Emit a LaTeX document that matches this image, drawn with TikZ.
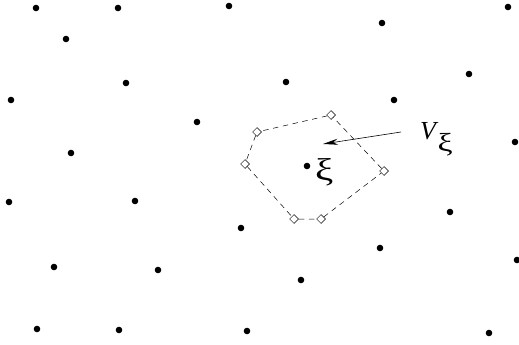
\documentclass[tikz,border=0pt]{standalone}
\usepackage{graphicx}
\usepackage{fontspec}
\setmainfont{Liberation Serif}
\usetikzlibrary{shapes.geometric,arrows.meta}
\tikzset{
  vert/.style={diamond,draw,fill=white,inner sep=0pt,minimum size=9pt,line width=0.5pt},
  cell/.style={dash pattern=on 5.5pt off 4.5pt,line width=0.5pt}
}
\begin{document}
\begin{tikzpicture}[x=1pt,y=-1pt]
\useasboundingbox (0,0) rectangle (519,345);
% lattice points
\foreach \p in {(36,8),(118,8),(229,6),(508,7),(382,23),(66,39),(469,74),
  (126,83),(286,82),(11,100),(394,100),(197,122),(515,142),(71,153),
  (9,202),(135,201),(450,212),(241,228),(380,248),(517,260),(54,267),
  (158,270),(301,280),(37,329),(119,330),(247,331),(489,333)}
  \fill \p circle (3.3);
\fill (307,166) circle (3.3);
\node[font=\fontsize{31.5}{33}\selectfont,inner sep=0pt,anchor=base west] (xi) at (315,180.7) {\scalebox{1.3}[1]{ξ}};
% Voronoi cell
\node[vert] (v1) at (331,115) {};
\node[vert] (v2) at (257,132) {};
\node[vert] (v3) at (245,164) {};
\node[vert] (v4) at (294,219) {};
\node[vert] (v5) at (321,219) {};
\node[vert] (v6) at (384,171) {};
\draw[cell] (v1) -- (v2) -- (v3) -- (v4) -- (v5) -- (v6) -- (v1);
% label
\node[font=\fontsize{26}{28}\selectfont,inner sep=0pt,anchor=base west] (lab) at (420,139) {\textit{V}\kern-1pt\raisebox{-12pt}{\fontsize{26}{28}\selectfont\scalebox{1.3}[1]{ξ}}};
\coordinate (tail) at (401,132);
\coordinate (tip) at (323,144);
\draw[-{Stealth[length=15pt,width=6pt]},line width=0.6pt] (tail) -- (tip);
\end{tikzpicture}
\end{document}
